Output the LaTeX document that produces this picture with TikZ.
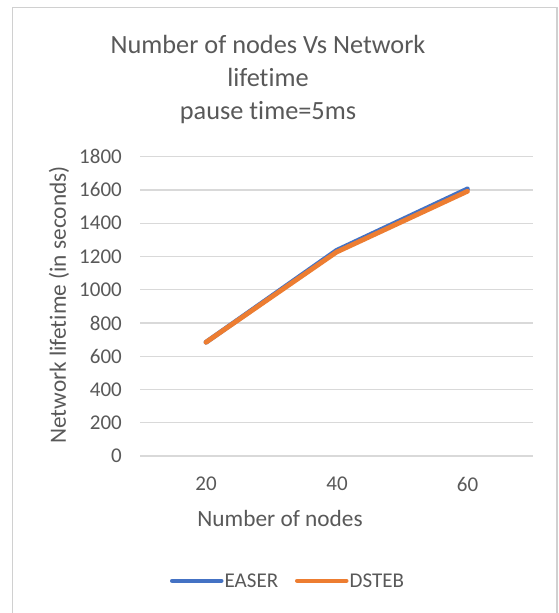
\documentclass[tikz,border=0pt]{standalone}
\usepackage{fontspec}
\setmainfont[Ligatures={NoCommon},RawFeature={-liga;-clig}]{Carlito}
\definecolor{txt}{HTML}{595959}
\definecolor{grid}{HTML}{D9D9D9}
\definecolor{frame}{HTML}{D0D0D0}
\definecolor{easer}{HTML}{4472C4}
\definecolor{dsteb}{HTML}{ED7D31}
\begin{document}
\begin{tikzpicture}[x=1pt,y=-1pt,
  ticklab/.style={text=txt,font=\fontsize{21}{25}\selectfont,inner sep=0pt},
  axtitle/.style={text=txt,font=\fontsize{23.3}{28}\selectfont,inner sep=0pt},
  gridline/.style={draw=grid,line width=1.3pt},
  series/.style={line width=4.8pt,line cap=round,line join=round}]
\useasboundingbox (0,0) rectangle (558,613);
\fill[white] (0,0) rectangle (558,613);
\draw[frame,line width=1.8pt] (12.5,630) -- (12.5,7.5) -- (557,7.5) -- (557,630);
% title
\node[text=txt,font=\fontsize{26.3}{33}\selectfont,inner sep=0pt,align=center] (title) at (268,79)
  {Number of nodes Vs Network\\lifetime\\pause time=5ms};
% grid and y ticks
\foreach \v [count=\i from 0] in {0,200,400,600,800,1000,1200,1400,1600,1800}{
  \pgfmathsetmacro{\yy}{456-\i*33.26}
  \draw[gridline] (140,\yy) -- (533,\yy);
  \node[ticklab,anchor=east] (y\i) at (122,\yy) {\v};
}
% x ticks
\node[ticklab] (x20) at (206,484) {20};
\node[ticklab] (x40) at (337,484) {40};
\node[ticklab] (x60) at (467.5,484) {60};
\node[axtitle] (xt) at (280,518) {Number of nodes};
\node[axtitle,rotate=90] (yt) at (59,305) {Network lifetime (in seconds)};
% data
\coordinate (e1) at (206,{456-684*0.1663});
\coordinate (e2) at (336.5,{456-1236*0.1663});
\coordinate (e3) at (467.5,{456-1606*0.1663});
\coordinate (d1) at (206,{456-684*0.1663});
\coordinate (d2) at (336.5,{456-1226*0.1663});
\coordinate (d3) at (467.5,{456-1592*0.1663});
\draw[series,easer] (e1) -- (e2) -- (e3);
\draw[series,dsteb] (d1) -- (d2) -- (d3);
% legend
\coordinate (le1) at (172,580.7);
\coordinate (le2) at (221.5,580.7);
\coordinate (ld1) at (297,580.7);
\coordinate (ld2) at (346.5,580.7);
\draw[easer,line width=4pt,line cap=round] (le1) -- (le2);
\draw[dsteb,line width=4pt,line cap=round] (ld1) -- (ld2);
\node[ticklab,anchor=west] (leasr) at (224.5,580.7) {EASER};
\node[ticklab,anchor=west] (ldsteb) at (349.5,580.7) {DSTEB};
\end{tikzpicture}
\end{document}
